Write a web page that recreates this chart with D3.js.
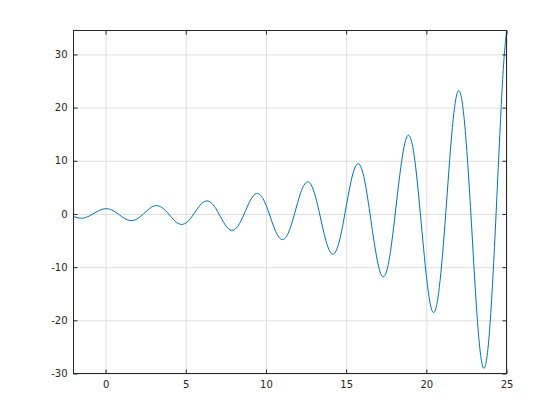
<!DOCTYPE html>
<html>
<head>
<meta charset="utf-8">
<script src="https://cdn.jsdelivr.net/npm/d3@7"></script>
<style>
  body { margin: 0; background: #fff; }
  svg { display: block; }
  .tick text { font-family: "DejaVu Sans", sans-serif; font-size: 10px; fill: #262626; }
</style>
</head>
<body>
<svg id="chart"></svg>
<script>
// values (peaks, zero crossings and the points between)
const xs = [-2, -1.57, -1.18, -0.79, -0.39, 0, 0.39, 0.79, 1.18, 1.57, 1.96, 2.36, 2.75,
  3.14, 3.53, 3.93, 4.32, 4.71, 5.11, 5.50, 5.89, 6.28, 6.68, 7.07, 7.46, 7.85, 8.25,
  8.64, 9.03, 9.42, 9.82, 10.21, 10.60, 11.00, 11.39, 11.78, 12.17, 12.57, 12.96, 13.35,
  13.74, 14.14, 14.53, 14.92, 15.32, 15.71, 16.10, 16.49, 16.89, 17.28, 17.67, 18.06,
  18.46, 18.85, 19.24, 19.63, 20.03, 20.42, 20.81, 21.21, 21.60, 21.99, 22.38, 22.78,
  23.17, 23.56, 23.95, 24.35, 24.74, 25];
const ys = [-0.49, -0.80, -0.60, 0, 0.67, 1.00, 0.75, 0, -0.84, -1.25, -0.94, 0, 1.05,
  1.57, 1.17, 0, -1.31, -1.96, -1.47, 0, 1.64, 2.45, 1.83, 0, -2.05, -3.07, -2.30,
  0, 2.57, 3.84, 2.87, 0, -3.22, -4.81, -3.60, 0, 4.02, 6.02, 4.50, 0,
  -5.04, -7.54, -5.64, 0, 6.30, 9.43, 7.05, 0, -7.89, -11.80, -8.83, 0,
  9.88, 14.77, 11.05, 0, -12.36, -18.49, -13.83, 0, 15.47, 23.14, 17.30, 0,
  -19.36, -28.96, -21.66, 0, 24.23, 34.31];
const xTicks = [0, 5, 10, 15, 20, 25];
const yTicks = [-30, -20, -10, 0, 10, 20, 30];

const W = 560, H = 420;
const L = 73.5, R = 506.5, T = 30.5, B = 373.5;
const axisColor = "#262626";

const svg = d3.select("#chart").attr("width", W).attr("height", H);

const x = d3.scaleLinear().domain([-2, 25]).range([L, R]);
const y = d3.scaleLinear().domain([-30, 34.5]).range([B, T]);

// grid
svg.append("g")
    .attr("transform", `translate(0,${B})`)
    .call(d3.axisBottom(x).tickValues(xTicks).tickSize(-(B - T)).tickFormat(""))
    .call(g => g.select(".domain").remove())
    .call(g => g.selectAll("line").attr("stroke", "#dfdfdf"));
svg.append("g")
    .attr("transform", `translate(${L},0)`)
    .call(d3.axisLeft(y).tickValues(yTicks).tickSize(-(R - L)).tickFormat(""))
    .call(g => g.select(".domain").remove())
    .call(g => g.selectAll("line").attr("stroke", "#dfdfdf"));

// data line
svg.append("clipPath").attr("id", "clip")
  .append("rect").attr("x", L).attr("y", T - 1).attr("width", R - L + 1).attr("height", B - T + 2);

const line = d3.line()
    .x((d, i) => x(xs[i]))
    .y(d => y(d))
    .curve(d3.curveNatural);

svg.append("path")
    .attr("clip-path", "url(#clip)")
    .attr("d", line(ys))
    .attr("fill", "none")
    .attr("stroke", "#0072BD")
    .attr("stroke-width", 1);

// axes, ticks point inward
const fmt = d => String(d);
svg.append("g")
    .attr("transform", `translate(0,${B})`)
    .call(d3.axisBottom(x).tickValues(xTicks).tickSizeInner(-4).tickSizeOuter(0).tickPadding(7).tickFormat(fmt));
svg.append("g")
    .attr("transform", `translate(0,${T})`)
    .call(d3.axisTop(x).tickValues(xTicks).tickSizeInner(-4).tickSizeOuter(0).tickFormat(""));
svg.append("g")
    .attr("transform", `translate(${L},0)`)
    .call(d3.axisLeft(y).tickValues(yTicks).tickSizeInner(-4).tickSizeOuter(0).tickPadding(6).tickFormat(fmt));
svg.append("g")
    .attr("transform", `translate(${R},0)`)
    .call(d3.axisRight(y).tickValues(yTicks).tickSizeInner(-4).tickSizeOuter(0).tickFormat(""));

svg.selectAll(".domain").remove();
svg.selectAll(".tick line").filter(function () { return this.getAttribute("stroke") !== "#dfdfdf"; })
    .attr("stroke", axisColor);

// box
svg.append("rect")
    .attr("x", L).attr("y", T)
    .attr("width", R - L).attr("height", B - T)
    .attr("fill", "none")
    .attr("stroke", axisColor)
    .attr("stroke-width", 1);
</script>
</body>
</html>
